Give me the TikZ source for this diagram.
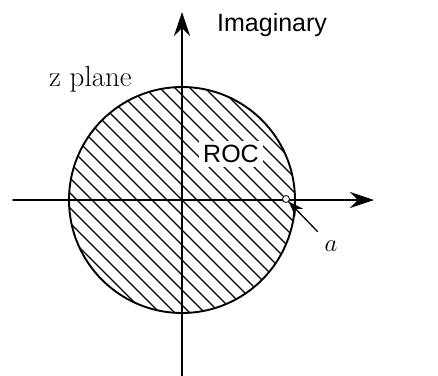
\documentclass[tikz,border=0pt]{standalone}
\usepackage{fontspec}
\setsansfont{Liberation Sans}
\usetikzlibrary{arrows.meta}

\begin{document}
\begin{tikzpicture}[x=1pt, y=-1pt, line cap=round,
	axis/.style={line width=1.8pt, -{Stealth[length=24pt, width=16pt]}},
	hatch/.style={line width=1.3pt},
	every node/.style={inner sep=1pt}]
	\useasboundingbox (0,0) rectangle (438,375);
	\coordinate (O) at (182,200);
	\coordinate (west) at (13,200);
	\coordinate (east) at (374,200);
	\coordinate (south) at (182,378);
	\coordinate (north) at (182,12);
	% region of convergence, hatched
	\begin{scope}
		\clip (O) circle (113);
		\foreach \k in {-16,...,16}
			\draw[hatch] (182+\k*15-160,40) -- (182+\k*15+160,360);
	\end{scope}
	\node[fill=white, inner sep=4pt, font=\sffamily\fontsize{25}{25}\selectfont] (roc) at (231,154) {ROC};
	\draw[line width=1.9pt] (O) circle (113);
	\draw[axis] (west) -- (east);
	\draw[axis] (south) -- (north);
	\node[draw, fill=white, circle, line width=0.8pt, minimum size=7pt, inner sep=0pt] (p) at (286,199) {};
	\node[font=\sffamily\fontsize{25}{25}\selectfont, anchor=west] (im) at (216,25) {Imaginary};
	\node[font=\fontsize{29}{29}\selectfont, anchor=base west] (zp) at (48,86) {z plane};
	\node[font=\itshape\fontsize{28}{28}\selectfont] (a) at (331,246) {$a$};
	\draw[line width=1.3pt, -{Stealth[length=15pt, width=11pt]}] (a.north west) ++(-6,-8) coordinate (tail) -- (p.south east);
\end{tikzpicture}
\end{document}
